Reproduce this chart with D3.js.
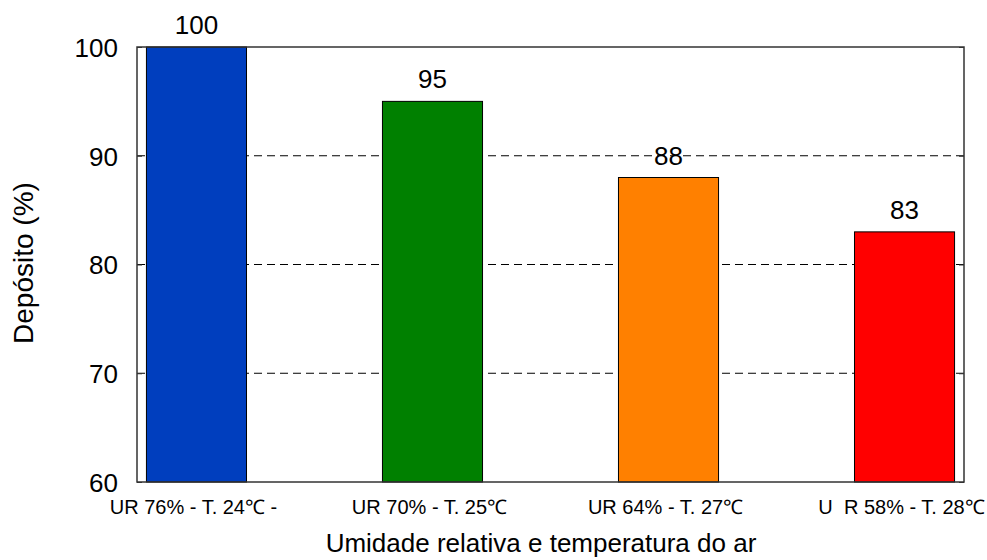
<!DOCTYPE html>
<html><head><meta charset="utf-8">
<script src="https://cdn.jsdelivr.net/npm/d3@7"></script>
<style>body{margin:0;background:#fff}svg{display:block;font-family:"Liberation Sans",Arial,sans-serif}</style>
</head><body><svg id="c" width="987" height="560"></svg>
<script>
const categories = ["UR 76% - T. 24\u2103 -", "UR 70% - T. 25\u2103", "UR 64% - T. 27\u2103", "U  R 58% - T. 28\u2103"];
const values = [100, 95, 88, 83];
const colors = ["#003EBE", "#008000", "#FF8000", "#FF0000"];
const yTicks = [60, 70, 80, 90, 100];
const gridTicks = [70, 80, 90];

const svg = d3.select("#c");
const L = 137, R = 964, T = 47, B = 482;
const x = d3.scaleBand().domain(categories).range([L, R]).paddingInner(0.576).paddingOuter(0.04);
const y = d3.scaleLinear().domain([60, 100]).range([B, T]);

// grid
svg.append("g").selectAll("line").data(gridTicks).join("line")
  .attr("x1", L).attr("x2", R).attr("y1", d => y(d)).attr("y2", d => y(d))
  .attr("stroke", "#000").attr("stroke-width", 1).attr("stroke-dasharray", "8,5");

// bars
svg.append("g").selectAll("rect").data(values).join("rect")
  .attr("x", (d, i) => x(categories[i])).attr("width", x.bandwidth())
  .attr("y", d => y(d)).attr("height", d => B - y(d))
  .attr("fill", (d, i) => colors[i]).attr("stroke", "#000").attr("stroke-width", 1);

// value labels
svg.append("g").selectAll("text").data(values).join("text")
  .attr("x", (d, i) => x(categories[i]) + x.bandwidth() / 2)
  .attr("y", d => y(d) - 13)
  .attr("text-anchor", "middle").attr("font-size", 26).text(d => d);

// left axis
const yAxisL = d3.axisLeft(y).tickValues(yTicks).tickSizeInner(-5).tickSizeOuter(0).tickPadding(19);
const gL = svg.append("g").attr("transform", `translate(${L},0)`).call(yAxisL);
gL.select(".domain").remove();
gL.selectAll("line").attr("stroke", "#333");
gL.selectAll("text").attr("font-size", 26).attr("fill", "#000").attr("font-family", "Liberation Sans, Arial, sans-serif").attr("dy", "0.36em");

// right axis ticks
const yAxisR = d3.axisRight(y).tickValues(yTicks).tickSizeInner(-5).tickSizeOuter(0).tickFormat("");
const gR = svg.append("g").attr("transform", `translate(${R},0)`).call(yAxisR);
gR.select(".domain").remove();
gR.selectAll("line").attr("stroke", "#333");

// frame
svg.append("rect").attr("x", L).attr("y", T).attr("width", R - L).attr("height", B - T)
  .attr("fill", "none").attr("stroke", "#333").attr("stroke-width", 1.5);

// x category labels
const xAxis = d3.axisBottom(x).tickSize(0).tickPadding(18);
const gX = svg.append("g").attr("transform", `translate(-3,${B})`).call(xAxis);
gX.select(".domain").remove();
gX.selectAll("text").attr("font-size", 20).attr("fill", "#000").attr("font-family", "Liberation Sans, Arial, sans-serif").style("white-space", "pre").attr("xml:space", "preserve");

// titles
svg.append("text").attr("x", 541).attr("y", 552).attr("text-anchor", "middle").attr("font-size", 26).text("Umidade relativa e temperatura do ar");
svg.append("text").attr("transform", "translate(33,263) rotate(-90)").attr("text-anchor", "middle").attr("font-size", 28).text("Depósito (%)");
</script></body></html>
